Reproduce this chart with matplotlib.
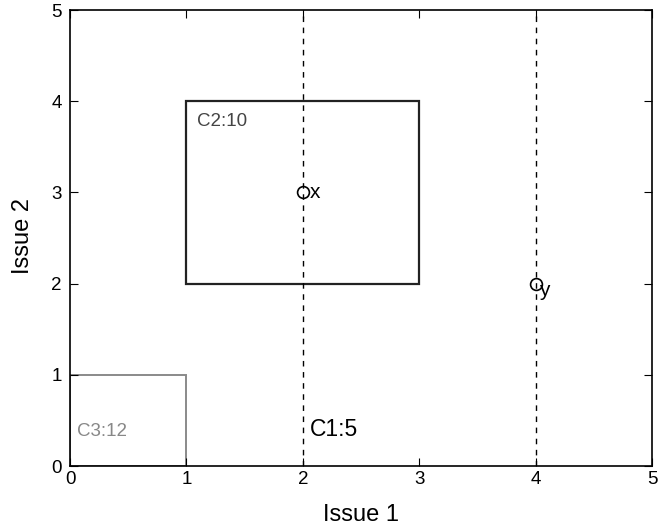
import matplotlib.pyplot as plt
from matplotlib.patches import Rectangle

plt.rcParams['font.family'] = ['Liberation Sans', 'DejaVu Sans']

# cluster boxes: (x0, y0, width, height)
box_c2 = (1, 2, 2, 2)
box_c3 = (0, 0, 1, 1)
cut_lines = [2, 4]
point_names = ['x', 'y']
point_x = [2, 4]
point_y = [3, 2]
ticks = [0, 1, 2, 3, 4, 5]

fig = plt.figure(figsize=(6.58, 5.32), dpi=100)
ax = fig.add_axes([0.1064, 0.124, 0.8845, 0.857])

# dashed vertical cuts (C1)
for xv in cut_lines:
    ax.plot([xv, xv], [0, 5], color='black', linestyle=(0, (4, 4)), linewidth=1.0)

ax.add_patch(Rectangle(box_c2[:2], box_c2[2], box_c2[3], fill=False,
                       edgecolor='#222222', linewidth=1.6))
ax.add_patch(Rectangle(box_c3[:2], box_c3[2], box_c3[3], fill=False,
                       edgecolor='#8a8a8a', linewidth=1.4))

ax.plot(point_x, point_y, 'o', markerfacecolor='none', markeredgecolor='black',
        markersize=8.5, markeredgewidth=1.2)
ax.text(2.06, 3.0, point_names[0], fontsize=15, va='center', ha='left')
ax.text(4.03, 1.93, point_names[1], fontsize=15, va='center', ha='left')

ax.text(1.09, 3.78, 'C2:10', fontsize=13.5, color='#444444', va='center', ha='left')
ax.text(0.06, 0.38, 'C3:12', fontsize=13.5, color='#888888', va='center', ha='left')
ax.text(2.06, 0.40, 'C1:5', fontsize=16.5, color='black', va='center', ha='left')

ax.set_xlim(0, 5)
ax.set_ylim(0, 5)
ax.set_xticks(ticks)
ax.set_yticks(ticks)
ax.tick_params(direction='in', top=True, right=True, labelsize=13.5, length=6)
ax.tick_params(axis='y', pad=6)
for s in ax.spines.values():
    s.set_linewidth(1.2)
ax.set_xlabel('Issue 1', fontsize=17)
ax.set_ylabel('Issue 2', fontsize=17)
ax.xaxis.set_label_coords(0.5, -0.083)
ax.yaxis.set_label_coords(-0.062, 0.504)

fig.savefig('out.png', dpi=100)
